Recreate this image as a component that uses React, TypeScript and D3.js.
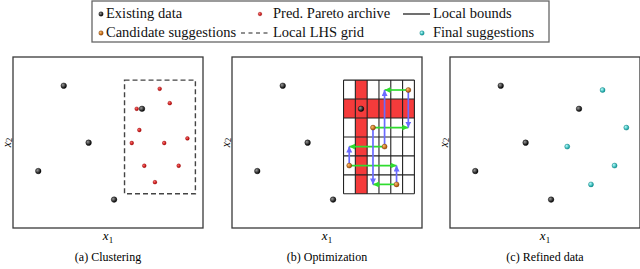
import React, { useEffect, useRef } from "react";
import * as d3 from "d3";

// points in normalised design space (x1, x2)
const existingX = [0.267, 0.398, 0.133, 0.532, 0.679];
const existingY = [0.832, 0.499, 0.333, 0.166, 0.697];
const paretoX = [0.772, 0.825, 0.651, 0.665, 0.625, 0.796, 0.918, 0.691, 0.872, 0.747];
const paretoY = [0.814, 0.73, 0.697, 0.573, 0.497, 0.497, 0.524, 0.364, 0.364, 0.268];
const candX = [0.928, 0.742, 0.803, 0.617, 0.866];
const candY = [0.807, 0.587, 0.476, 0.365, 0.255];
const finalX = [0.803, 0.928, 0.617, 0.866, 0.742];
const finalY = [0.807, 0.587, 0.476, 0.365, 0.255];
// vertical moves: [candidate index, final index]
const ySwaps = [[0, 1], [2, 0], [1, 4], [3, 2], [4, 3]];
const boundsX = [0.587, 0.96];
const boundsY = [0.2, 0.865];
const nDiv = 6;
const redCol = 1;
const redRow = 4; // counted from the bottom

const captions = ["(a) Clustering", "(b) Optimization", "(c) Refined data"];
const legendRow1 = ["Existing data", "Pred. Pareto archive", "Local bounds"];
const legendRow2 = ["Candidate suggestions", "Local LHS grid", "Final suggestions"];

const FONT = "'Liberation Serif', serif";

export default function App() {
  const ref = useRef<SVGSVGElement>(null);

  useEffect(() => {
    const svg = d3.select(ref.current);
    svg.selectAll("*").remove();

    const defs = svg.append("defs");
    const spheres: [string, string, string][] = [
      ["gBlack", "#9a9a9a", "#000"],
      ["gRed", "#ff7070", "#b00000"],
      ["gOrange", "#ffc070", "#a84e00"],
      ["gCyan", "#b8ffff", "#0a9a9a"],
    ];
    spheres.forEach(([id, c0, c1]) => {
      const g = defs.append("radialGradient").attr("id", id).attr("cx", "35%").attr("cy", "35%").attr("r", "65%");
      g.append("stop").attr("offset", "0%").attr("stop-color", c0);
      g.append("stop").attr("offset", "100%").attr("stop-color", c1);
    });
    [["headGreen", "#2fdc2f"], ["headBlue", "#6a6aff"]].forEach(([id, c]) => {
      defs.append("marker")
        .attr("id", id)
        .attr("markerUnits", "userSpaceOnUse")
        .attr("markerWidth", 7)
        .attr("markerHeight", 7)
        .attr("refX", 6)
        .attr("refY", 3)
        .attr("orient", "auto")
        .append("path")
        .attr("d", "M0,0 L6,3 L0,6 z")
        .attr("fill", c);
    });

    // panels
    const panelLeft = [13, 232, 450];
    const top = 57, w = 190, h = 171;

    const dots = (g: any, xs: number[], ys: number[], x: any, y: any, r: number, fill: string, stroke: string) => {
      g.append("g")
        .selectAll("circle")
        .data(xs.map((d, i) => [d, ys[i]]))
        .join("circle")
        .attr("cx", (d: number[]) => x(d[0]))
        .attr("cy", (d: number[]) => y(d[1]))
        .attr("r", r)
        .attr("fill", fill)
        .attr("stroke", stroke)
        .attr("stroke-width", 0.4);
    };

    panelLeft.forEach((left, p) => {
      const x = d3.scaleLinear().domain([0, 1]).range([left, left + w]);
      const y = d3.scaleLinear().domain([0, 1]).range([top + h, top]);
      const g = svg.append("g");

      g.append("rect")
        .attr("x", left)
        .attr("y", top)
        .attr("width", w)
        .attr("height", h)
        .attr("fill", "#fff")
        .attr("stroke", "#3a3a3a")
        .attr("stroke-width", 1.3);

      const gx = d3.range(nDiv + 1).map((i) => boundsX[0] + (i * (boundsX[1] - boundsX[0])) / nDiv);
      const gy = d3.range(nDiv + 1).map((i) => boundsY[0] + (i * (boundsY[1] - boundsY[0])) / nDiv);

      if (p === 0) {
        g.append("rect")
          .attr("x", x(boundsX[0]))
          .attr("y", y(boundsY[1]))
          .attr("width", x(boundsX[1]) - x(boundsX[0]))
          .attr("height", y(boundsY[0]) - y(boundsY[1]))
          .attr("fill", "none")
          .attr("stroke", "#444")
          .attr("stroke-width", 1.4)
          .attr("stroke-dasharray", "5,3");
        dots(g, existingX, existingY, x, y, 2.8, "url(#gBlack)", "#000");
        dots(g, paretoX, paretoY, x, y, 1.9, "url(#gRed)", "#900");
      }

      if (p === 1) {
        // red column and row of the LHS grid
        g.append("rect")
          .attr("x", x(gx[redCol]))
          .attr("y", y(boundsY[1]))
          .attr("width", x(gx[redCol + 1]) - x(gx[redCol]))
          .attr("height", y(boundsY[0]) - y(boundsY[1]))
          .attr("fill", "#f53b3b");
        g.append("rect")
          .attr("x", x(boundsX[0]))
          .attr("y", y(gy[redRow + 1]))
          .attr("width", x(boundsX[1]) - x(boundsX[0]))
          .attr("height", y(gy[redRow]) - y(gy[redRow + 1]))
          .attr("fill", "#f53b3b");
        g.append("g")
          .selectAll("line")
          .data(gx)
          .join("line")
          .attr("x1", (d) => x(d))
          .attr("x2", (d) => x(d))
          .attr("y1", y(boundsY[0]))
          .attr("y2", y(boundsY[1]))
          .attr("stroke", "#222")
          .attr("stroke-width", 1.1);
        g.append("g")
          .selectAll("line")
          .data(gy)
          .join("line")
          .attr("y1", (d) => y(d))
          .attr("y2", (d) => y(d))
          .attr("x1", x(boundsX[0]))
          .attr("x2", x(boundsX[1]))
          .attr("stroke", "#222")
          .attr("stroke-width", 1.1);

        dots(g, existingX, existingY, x, y, 2.8, "url(#gBlack)", "#000");

        // horizontal moves (green)
        g.append("g")
          .selectAll("line")
          .data(candX.map((d, i) => i))
          .join("line")
          .attr("x1", (i) => x(candX[i]))
          .attr("y1", (i) => y(candY[i]))
          .attr("x2", (i) => x(finalX[i]))
          .attr("y2", (i) => y(finalY[i]))
          .attr("stroke", "#2fdc2f")
          .attr("stroke-width", 1.7)
          .attr("marker-end", "url(#headGreen)");
        // vertical moves (blue)
        g.append("g")
          .selectAll("line")
          .data(ySwaps)
          .join("line")
          .attr("x1", (d) => x(candX[d[0]]))
          .attr("y1", (d) => y(candY[d[0]]))
          .attr("x2", (d) => x(finalX[d[1]]))
          .attr("y2", (d) => y(finalY[d[1]]))
          .attr("stroke", "#6a6aff")
          .attr("stroke-width", 1.7)
          .attr("marker-end", "url(#headBlue)");

        dots(g, candX, candY, x, y, 2.5, "url(#gOrange)", "#6a3000");
      }

      if (p === 2) {
        dots(g, existingX, existingY, x, y, 2.8, "url(#gBlack)", "#000");
        dots(g, finalX, finalY, x, y, 2.5, "url(#gCyan)", "#077");
      }

      // axis labels
      const xl = g.append("text")
        .attr("x", left + w / 2)
        .attr("y", 240)
        .attr("text-anchor", "middle")
        .style("font-family", FONT)
        .style("font-size", "13px");
      xl.append("tspan").style("font-style", "italic").text("x");
      xl.append("tspan").attr("dy", 2.5).style("font-size", "9px").text("1");

      const yl = g.append("text")
        .attr("transform", `translate(${left - 2.5}, ${top + h / 2}) rotate(-90)`)
        .attr("text-anchor", "middle")
        .style("font-family", FONT)
        .style("font-size", "11.5px");
      yl.append("tspan").style("font-style", "italic").text("x");
      yl.append("tspan").attr("dy", 1.5).style("font-size", "8.5px").text("2");

      g.append("text")
        .attr("x", left + w / 2)
        .attr("y", 261)
        .attr("text-anchor", "middle")
        .style("font-family", FONT)
        .style("font-size", "12px")
        .text(captions[p]);
    });

    // legend
    const lg = svg.append("g");
    lg.append("rect")
      .attr("x", 92)
      .attr("y", 1)
      .attr("width", 457)
      .attr("height", 41)
      .attr("fill", "#fff")
      .attr("stroke", "#666")
      .attr("stroke-width", 1.3);

    const colText = [106, 273, 433];
    const rowY = [18, 37];
    [legendRow1, legendRow2].forEach((row, r) => {
      row.forEach((label, c) => {
        lg.append("text")
          .attr("x", colText[c])
          .attr("y", rowY[r])
          .style("font-family", FONT)
          .style("font-size", "14.5px")
          .attr("fill", "#111")
          .text(label);
      });
    });
    const legendDot = (cx: number, cy: number, r: number, fill: string, stroke: string) =>
      lg.append("circle").attr("cx", cx).attr("cy", cy).attr("r", r).attr("fill", fill).attr("stroke", stroke).attr("stroke-width", 0.4);
    legendDot(101, 14, 2.2, "url(#gBlack)", "#000");
    legendDot(260, 14, 1.8, "url(#gRed)", "#900");
    legendDot(101, 33, 2.2, "url(#gOrange)", "#6a3000");
    legendDot(422, 33, 2.2, "url(#gCyan)", "#077");
    lg.append("line").attr("x1", 403).attr("x2", 430).attr("y1", 14).attr("y2", 14).attr("stroke", "#111").attr("stroke-width", 1.2);
    lg.append("line").attr("x1", 241).attr("x2", 268).attr("y1", 33).attr("y2", 33).attr("stroke", "#222").attr("stroke-width", 1.2).attr("stroke-dasharray", "4,3.5");
  }, []);

  return (
    <svg
      ref={ref}
      width={640}
      height={269}
      style={{ position: "absolute", left: 0, top: 0, background: "#fff" }}
    />
  );
}
